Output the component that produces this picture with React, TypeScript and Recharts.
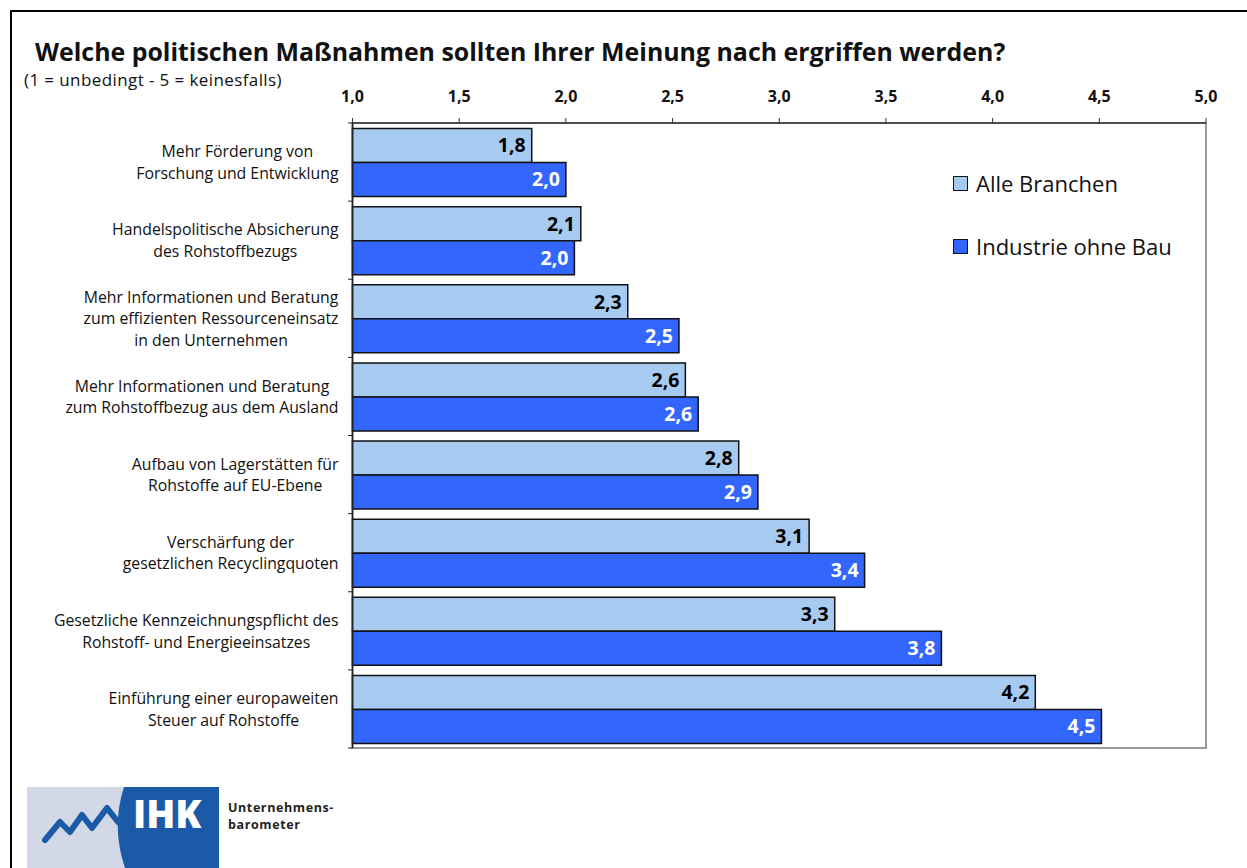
import React from 'react';
import {
  BarChart,
  Bar,
  XAxis,
  YAxis,
  LabelList,
  Legend,
  ReferenceArea,
} from 'recharts';

const categories = [
  'Mehr Förderung von\nForschung und Entwicklung',
  'Handelspolitische Absicherung\ndes Rohstoffbezugs',
  'Mehr Informationen und Beratung\nzum effizienten Ressourceneinsatz\nin den Unternehmen',
  'Mehr Informationen und Beratung\nzum Rohstoffbezug aus dem Ausland',
  'Aufbau von Lagerstätten für\nRohstoffe auf EU-Ebene',
  'Verschärfung der\ngesetzlichen Recyclingquoten',
  'Gesetzliche Kennzeichnungspflicht des\nRohstoff- und Energieeinsatzes',
  'Einführung einer europaweiten\nSteuer auf Rohstoffe',
];

const alleBranchen = [1.84, 2.07, 2.29, 2.56, 2.81, 3.14, 3.26, 4.2];
const industrieOhneBau = [2.0, 2.04, 2.53, 2.62, 2.9, 3.4, 3.76, 4.51];

const xTicks = [1, 1.5, 2, 2.5, 3, 3.5, 4, 4.5, 5];

const seriesNames = ['Alle Branchen', 'Industrie ohne Bau'];
const LIGHT = '#a7cbf0';
const BLUE = '#3366ff';
const FONT = '"Open Sans", sans-serif';

const rows = categories.map((c, i) => ({
  name: c,
  alle: alleBranchen[i],
  industrie: industrieOhneBau[i],
}));

const fmt = (v: unknown) =>
  typeof v === 'number' ? v.toFixed(1).replace('.', ',') : String(v ?? '');

let ctx: CanvasRenderingContext2D | null = null;
function textWidth(s: string, font: string) {
  if (!ctx) ctx = document.createElement('canvas').getContext('2d');
  if (!ctx) return s.length * 8;
  ctx.font = font;
  return ctx.measureText(s).width;
}

const LABEL_SIZE = 15.8;

// category label, centred lines in a right-aligned block, plus the
// small tick marks that sit on the band boundaries
function CategoryTick({ x, y, payload, index }: any) {
  const lines = String(payload.value).split('\n');
  const maxW = Math.max(...lines.map((l) => textWidth(l, `${LABEL_SIZE}px "Open Sans"`)));
  const cx = x - 6 - maxW / 2;
  const lh = 21.5;
  const y0 = y - ((lines.length - 1) * lh) / 2;
  const half = payload.offset || 0;
  const axisX = x + 8.5;
  return (
    <g>
      <line x1={axisX - 5} x2={axisX} y1={y - half} y2={y - half} stroke="#222" />
      {index === categories.length - 1 && (
        <line x1={axisX - 5} x2={axisX} y1={y + half} y2={y + half} stroke="#222" />
      )}
      <text
        textAnchor="middle"
        dominantBaseline="central"
        fontSize={LABEL_SIZE}
        fontFamily={FONT}
        fill="#111"
      >
        {lines.map((l, i) => (
          <tspan key={i} x={cx} y={y0 + i * lh}>
            {l}
          </tspan>
        ))}
      </text>
    </g>
  );
}

function LegendBox() {
  const fills = [LIGHT, BLUE];
  return (
    <div style={{ fontFamily: FONT, fontSize: 22, color: '#111' }}>
      {seriesNames.map((n, i) => (
        <div
          key={n}
          style={{
            display: 'flex',
            alignItems: 'center',
            height: 30,
            marginBottom: i === 0 ? 33 : 0,
          }}
        >
          <span
            style={{
              width: 13,
              height: 13,
              background: fills[i],
              border: '1.5px solid #111',
              marginRight: 8,
              display: 'inline-block',
            }}
          />
          {n}
        </div>
      ))}
    </div>
  );
}

function Logo() {
  return (
    <svg width={330} height={81} style={{ position: 'absolute', left: 27, top: 787 }}>
      <rect x={0} y={0} width={192} height={81} fill="#d3d8e6" />
      <path d="M97 0 Q84 40 98 81 L192 81 L192 0 Z" fill="#1b5aa6" />
      <polyline
        points="18,53 33,35 43,45 55,28 65,41 80,21 91,35"
        fill="none"
        stroke="#1b5aa6"
        strokeWidth={6}
        strokeLinejoin="round"
        strokeLinecap="round"
      />
      <text x={106} y={41} fill="#fff" fontFamily={FONT} fontWeight={800} fontSize={38}>
        IHK
      </text>
      <text
        x={201}
        y={25}
        fill="#222"
        fontFamily={FONT}
        fontWeight={700}
        fontSize={12.5}
        letterSpacing={0.6}
      >
        Unternehmens-
      </text>
      <text
        x={201}
        y={42}
        fill="#222"
        fontFamily={FONT}
        fontWeight={700}
        fontSize={12.5}
        letterSpacing={0.6}
      >
        barometer
      </text>
    </svg>
  );
}

export default function App() {
  return (
    <div
      style={{
        position: 'absolute',
        left: 0,
        top: 0,
        width: 1247,
        height: 868,
        overflow: 'hidden',
        background: '#fff',
        fontFamily: FONT,
      }}
    >
      <div
        style={{
          position: 'absolute',
          left: 10,
          top: 10,
          width: 1300,
          height: 900,
          borderTop: '2px solid #000',
          borderLeft: '2px solid #000',
        }}
      />
      <div
        style={{
          position: 'absolute',
          left: 35,
          top: 37.5,
          fontSize: 24.9,
          lineHeight: 1.1,
          fontWeight: 700,
          color: '#111',
          whiteSpace: 'nowrap',
        }}
      >
        Welche politischen Maßnahmen sollten Ihrer Meinung nach ergriffen werden?
      </div>
      <div
        style={{
          position: 'absolute',
          left: 24,
          top: 71,
          fontSize: 17,
          lineHeight: 1.1,
          letterSpacing: 0.4,
          color: '#111',
          whiteSpace: 'nowrap',
        }}
      >
        (1 = unbedingt - 5 = keinesfalls)
      </div>
      <div style={{ position: 'absolute', left: 0, top: 0 }}>
        <BarChart
          width={1247}
          height={868}
          data={rows}
          layout="vertical"
          margin={{ top: 93, right: 41, bottom: 120, left: 12.5 }}
          barCategoryGap={5.5}
          barGap={0}
        >
          <ReferenceArea x1={1} x2={5} fill="none" stroke="#999" strokeWidth={2} />
          <XAxis
            type="number"
            orientation="top"
            domain={[1, 5]}
            ticks={xTicks}
            height={30}
            tickFormatter={fmt}
            tickSize={5}
            tickMargin={16}
            axisLine={{ stroke: '#333', strokeWidth: 1.5 }}
            tickLine={{ stroke: '#333' }}
            tick={{ fontSize: 16, fontWeight: 700, fill: '#111', fontFamily: FONT }}
          />
          <YAxis
            type="category"
            dataKey="name"
            width={340}
            axisLine={{ stroke: '#222', strokeWidth: 1.5 }}
            tickLine={false}
            tick={<CategoryTick />}
            interval={0}
          />
          <Legend
            layout="vertical"
            align="center"
            verticalAlign="middle"
            content={<LegendBox />}
            wrapperStyle={{ position: 'absolute', left: 953, top: 168, width: 240 }}
          />
          <Bar
            dataKey="alle"
            name={seriesNames[0]}
            fill={LIGHT}
            stroke="#111"
            strokeWidth={1.5}
            isAnimationActive={false}
          >
            <LabelList
              dataKey="alle"
              position="insideRight"
              offset={6}
              formatter={fmt}
              fill="#000"
              style={{ fontSize: 19.5, fontWeight: 700, fill: '#000', fontFamily: FONT }}
            />
          </Bar>
          <Bar
            dataKey="industrie"
            name={seriesNames[1]}
            fill={BLUE}
            stroke="#111"
            strokeWidth={1.5}
            isAnimationActive={false}
          >
            <LabelList
              dataKey="industrie"
              position="insideRight"
              offset={6}
              formatter={fmt}
              fill="#fff"
              style={{ fontSize: 19.5, fontWeight: 700, fill: '#fff', fontFamily: FONT }}
            />
          </Bar>
        </BarChart>
      </div>
      <Logo />
    </div>
  );
}
